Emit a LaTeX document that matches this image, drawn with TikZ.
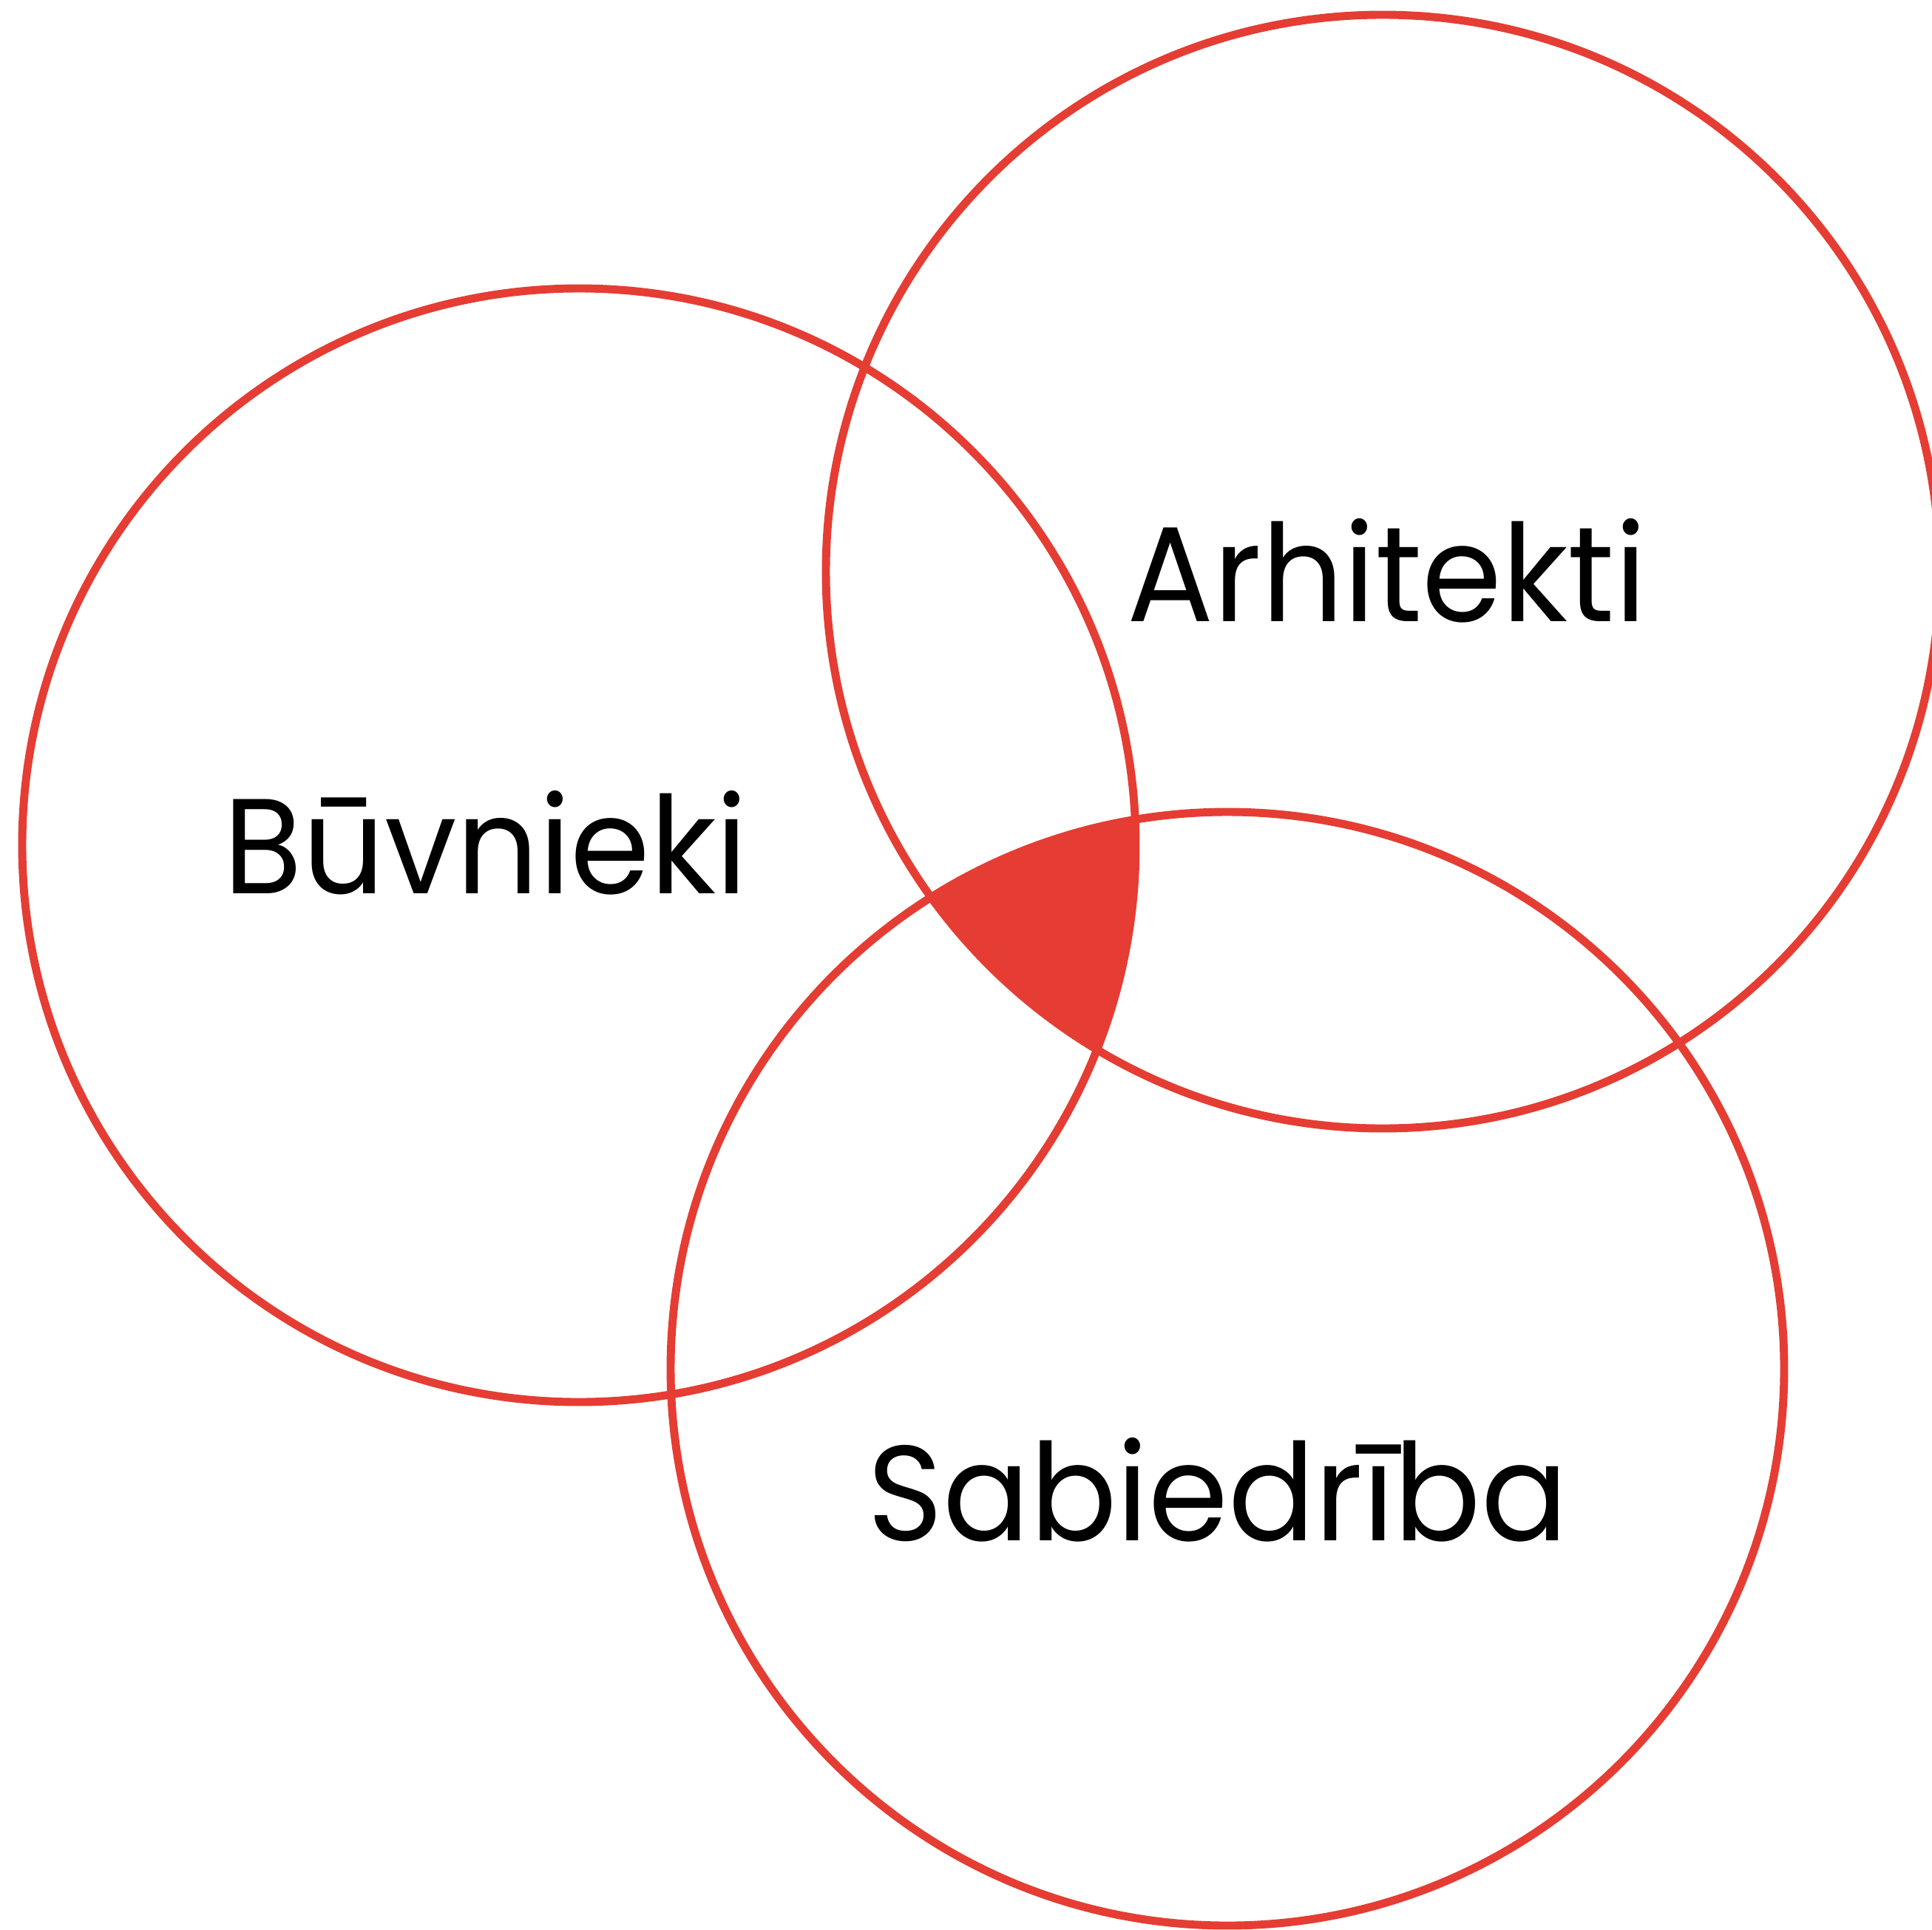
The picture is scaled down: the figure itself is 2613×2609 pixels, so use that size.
\documentclass[tikz,border=0pt]{standalone}
\usepackage{fontspec}
\setmainfont[FakeStretch=0.95]{Poppins}
\usetikzlibrary{positioning}
\definecolor{vennred}{RGB}{229,61,51}

\begin{document}
\begin{tikzpicture}[
    x=0.01cm, y=-0.01cm,
    ring/.style={draw=vennred, line width=3.1pt},
    grouplabel/.style={font=\fontsize{52}{60}\selectfont, anchor=base west, inner sep=0pt}
  ]
  \useasboundingbox (0,0) rectangle (2613,2609);

  % circle centres
  \coordinate (buv) at (783,1143);
  \coordinate (arh) at (1870,773);
  \coordinate (sab) at (1660,1851);

  % common part of all three
  \begin{scope}
    \clip (buv) circle[radius=753];
    \clip (arh) circle[radius=753];
    \fill[vennred] (sab) circle[radius=753];
  \end{scope}

  % circles
  \draw[ring] (buv) circle[radius=753];
  \draw[ring] (arh) circle[radius=753];
  \draw[ring] (sab) circle[radius=753];

  % labels
  \node[grouplabel] (buvnieki) at (302,1208) {Būvnieki};
  \node[grouplabel] (arhitekti) at (1524,840) {Arhitekti};
  \node[grouplabel] (sabiedriba) at (1173,2083) {Sabiedrība};
\end{tikzpicture}
\end{document}
